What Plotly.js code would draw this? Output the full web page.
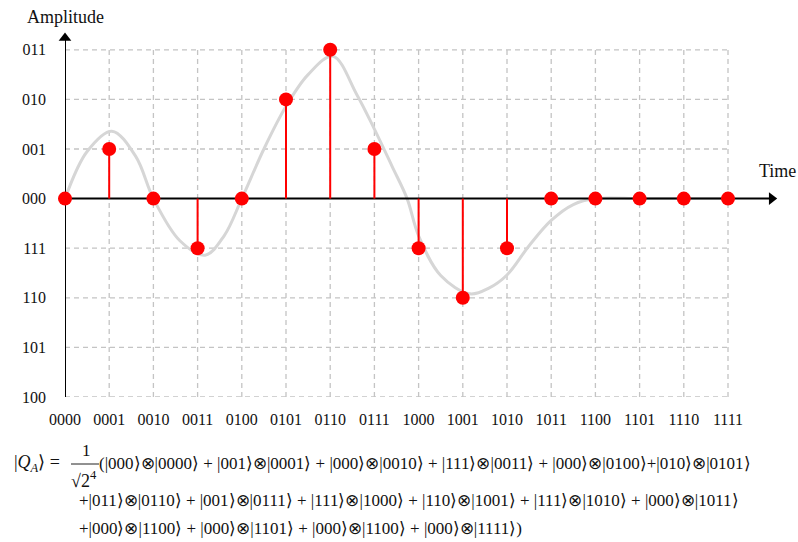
<!DOCTYPE html>
<html>
<head>
<meta charset="utf-8">
<script src="https://cdn.plot.ly/plotly-3.0.1.min.js"></script>
<style>html,body{margin:0;padding:0;background:#fff;}#chart{width:798px;height:542px;}</style>
</head>
<body>
<div id="chart"></div>
<script>
// ---- data ----
const timeLabels = ['0000','0001','0010','0011','0100','0101','0110','0111','1000','1001','1010','1011','1100','1101','1110','1111'];
const timeIndex = [0,1,2,3,4,5,6,7,8,9,10,11,12,13,14,15];
const ampLabels = ['100','101','110','111','000','001','010','011'];
const ampValues = [-4,-3,-2,-1,0,1,2,3];
const sampleValues = [0,1,0,-1,0,2,3,1,-1,-2,-1,0,0,0,0,0];
// smooth analog signal
const curveX = [0,0.5,1.06,1.6,2,2.6,3.17,3.6,4,4.5,5,5.5,6.06,6.6,7,7.4,7.74,8,8.5,9.16,9.6,10,10.5,11,11.5,12,13,14,15];
const curveY = [0,0.95,1.36,0.85,0,-0.85,-1.14,-0.75,0,1.0,1.86,2.5,2.87,2.1,1.4,0.65,0,-0.75,-1.55,-1.92,-1.8,-1.54,-0.95,-0.44,-0.12,0,0,0,0];
const formulaLines = [
  '(|000⟩⊗|0000⟩ + |001⟩⊗|0001⟩ + |000⟩⊗|0010⟩ + |111⟩⊗|0011⟩ + |000⟩⊗|0100⟩+|010⟩⊗|0101⟩',
  '+|011⟩⊗|0110⟩ + |001⟩⊗|0111⟩ + |111⟩⊗|1000⟩ + |110⟩⊗|1001⟩ + |111⟩⊗|1010⟩ + |000⟩⊗|1011⟩',
  '+|000⟩⊗|1100⟩ + |000⟩⊗|1101⟩ + |000⟩⊗|1100⟩ + |000⟩⊗|1111⟩)'
];

// ---- geometry ----
const W = 798, H = 542;
const M = {l:65, r:21, t:33, b:145};
const PW = W - M.l - M.r, PH = H - M.t - M.b;
const X_PER = 44.2, Y_PER = 49.6;
const xr = [0, PW / X_PER];
const yr = [-4, -4 + PH / Y_PER];
const px = x => (x - M.l) / PW;
const py = y => (H - M.b - y) / PH;

const serif = 'Liberation Serif';

// stems
const stemX = [], stemY = [];
timeIndex.forEach((t, i) => {
  if (sampleValues[i] !== 0) { stemX.push(t, t, null); stemY.push(0, sampleValues[i], null); }
});

// grid
const shapes = [];
const gridLine = {color:'#c4c4c4', width:1.3, dash:'5px,4px'};
const xMax = timeIndex[timeIndex.length-1];
const yMin = ampValues[0], yMax = ampValues[ampValues.length-1];
ampValues.forEach(v => {
  if (v === 0) return;
  shapes.push({type:'line', xref:'x', yref:'y', x0:0, x1:xMax, y0:v, y1:v, line:gridLine, layer:'below'});
});
timeIndex.forEach(t => {
  if (t === 0) return;
  shapes.push({type:'line', xref:'x', yref:'y', x0:t, x1:t, y0:yMin, y1:yMax, line:gridLine, layer:'below'});
});
// fraction bar
shapes.push({type:'line', xref:'paper', yref:'paper', x0:px(71), x1:px(99), y0:py(464), y1:py(464), line:{color:'#222', width:1}});

const txt = (text, x, y, size, anchor) => ({text, xref:'paper', yref:'paper', x:px(x), y:py(y), xanchor:anchor||'left', yanchor:'middle', showarrow:false, font:{family:serif, size, color:'#111'}});
const annotations = [
  txt('Amplitude', 25, 17, 18),
  txt('Time', 757, 171, 18),
  txt('|<i>Q</i><sub><i>A</i></sub>⟩ =', 12, 463, 18),
  txt('1', 86, 451, 17, 'center'),
  txt('√2<sup>4</sup>', 84, 479, 18, 'center'),
  txt(formulaLines[0], 97, 463, 17),
  txt(formulaLines[1], 77, 501, 17),
  txt(formulaLines[2], 77, 528, 17)
];

const axEnd = xr[1] - 0.12, ayEnd = yr[1] - 0.1;
const traces = [
  {x:curveX, y:curveY, mode:'lines', line:{color:'#d6d6d6', width:3, shape:'spline', smoothing:1}, hoverinfo:'skip', cliponaxis:false},
  // axes with arrow heads
  {x:[0, axEnd], y:[0, 0], mode:'lines', line:{color:'#000', width:2}, cliponaxis:false},
  {x:[0, 0], y:[yMin, ayEnd], mode:'lines', line:{color:'#000', width:2}, cliponaxis:false},
  {x:[axEnd], y:[0], mode:'markers', marker:{symbol:'triangle-right', size:11, color:'#000'}, cliponaxis:false},
  {x:[0], y:[ayEnd], mode:'markers', marker:{symbol:'triangle-up', size:11, color:'#000'}, cliponaxis:false},
  {x:stemX, y:stemY, mode:'lines', line:{color:'#ff0000', width:2}, hoverinfo:'skip', cliponaxis:false},
  {x:timeIndex, y:sampleValues, mode:'markers', marker:{color:'#ff0000', size:14}, cliponaxis:false}
];

const layout = {
  width:W, height:H, margin:M, showlegend:false,
  paper_bgcolor:'#fff', plot_bgcolor:'#fff',
  xaxis:{range:xr, tickvals:timeIndex, ticktext:timeLabels, showgrid:false, zeroline:false, showline:false, ticks:'', ticklabelstandoff:11, tickfont:{family:serif, size:16, color:'#111'}, fixedrange:true},
  yaxis:{range:yr, tickvals:ampValues, ticktext:ampLabels, showgrid:false, zeroline:false, showline:false, ticks:'', ticklabelstandoff:18, tickfont:{family:serif, size:16, color:'#111'}, fixedrange:true},
  shapes:shapes, annotations:annotations
};
Plotly.newPlot('chart', traces, layout, {staticPlot:true});
</script>
</body>
</html>
